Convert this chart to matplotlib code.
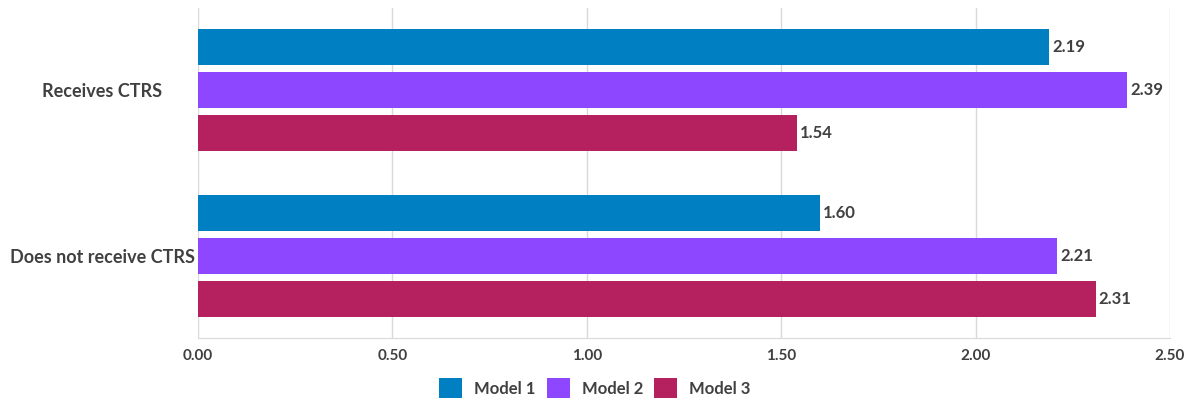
import matplotlib
matplotlib.use("Agg")
import matplotlib.pyplot as plt
import numpy as np

categories = ["Receives CTRS", "Does not receive CTRS"]
series_names = ["Model 1", "Model 2", "Model 3"]
model1 = [2.19, 1.60]
model2 = [2.39, 2.21]
model3 = [1.54, 2.31]
xticks = [0.0, 0.5, 1.0, 1.5, 2.0, 2.5]
colors = ["#0080C3", "#8C47FF", "#B5205E"]

plt.rcParams['font.family'] = ['Lato', 'DejaVu Sans']
txt = "#404040"

fig = plt.figure(figsize=(11.94, 4.0), dpi=100)
ax = fig.add_axes([198/1194, 1-338/400, (1170-198)/1194, (338-8)/400])

ypos = np.array([1.0, 0.0])
step = 0.261
height = 0.217
for i, (vals, name, c) in enumerate(zip([model1, model2, model3], series_names, colors)):
    y = ypos + (1 - i) * step
    bars = ax.barh(y, vals, height=height, color=c, label=name, zorder=3)
    for b, v in zip(bars, vals):
        ax.text(v + 0.007, b.get_y() + b.get_height()/2, f"{v:.2f}", va="center", ha="left",
                fontsize=12, fontweight="bold", color=txt, zorder=4)

ax.set_xlim(0, 2.5)
ax.set_ylim(-0.497, 1.497)
ax.set_xticks(xticks)
ax.set_xticklabels([f"{t:.2f}" for t in xticks], fontsize=11, fontweight="bold", color=txt)
ax.set_yticks(ypos)
ax.set_yticklabels(categories, fontsize=13, fontweight="bold", color=txt, ha="center")
ax.tick_params(axis="both", length=0)
ax.tick_params(axis="x", pad=8)
ax.tick_params(axis="y", pad=69)
ax.grid(axis="x", color="#d9d9d9", linewidth=1, zorder=0)
for s in ["top", "right", "left"]:
    ax.spines[s].set_visible(False)
ax.spines["bottom"].set_color("#d9d9d9")

leg = fig.legend(loc="center", bbox_to_anchor=(595/1194, 1-388/400), ncol=3, frameon=False,
                 prop={"family": ["Lato", "DejaVu Sans"], "weight": "bold", "size": 12},
                 handlelength=1.38, handleheight=1.4, handletextpad=0.72, columnspacing=0.66)
for t in leg.get_texts():
    t.set_color(txt)

fig.savefig("out.png", dpi=100, facecolor="white")
